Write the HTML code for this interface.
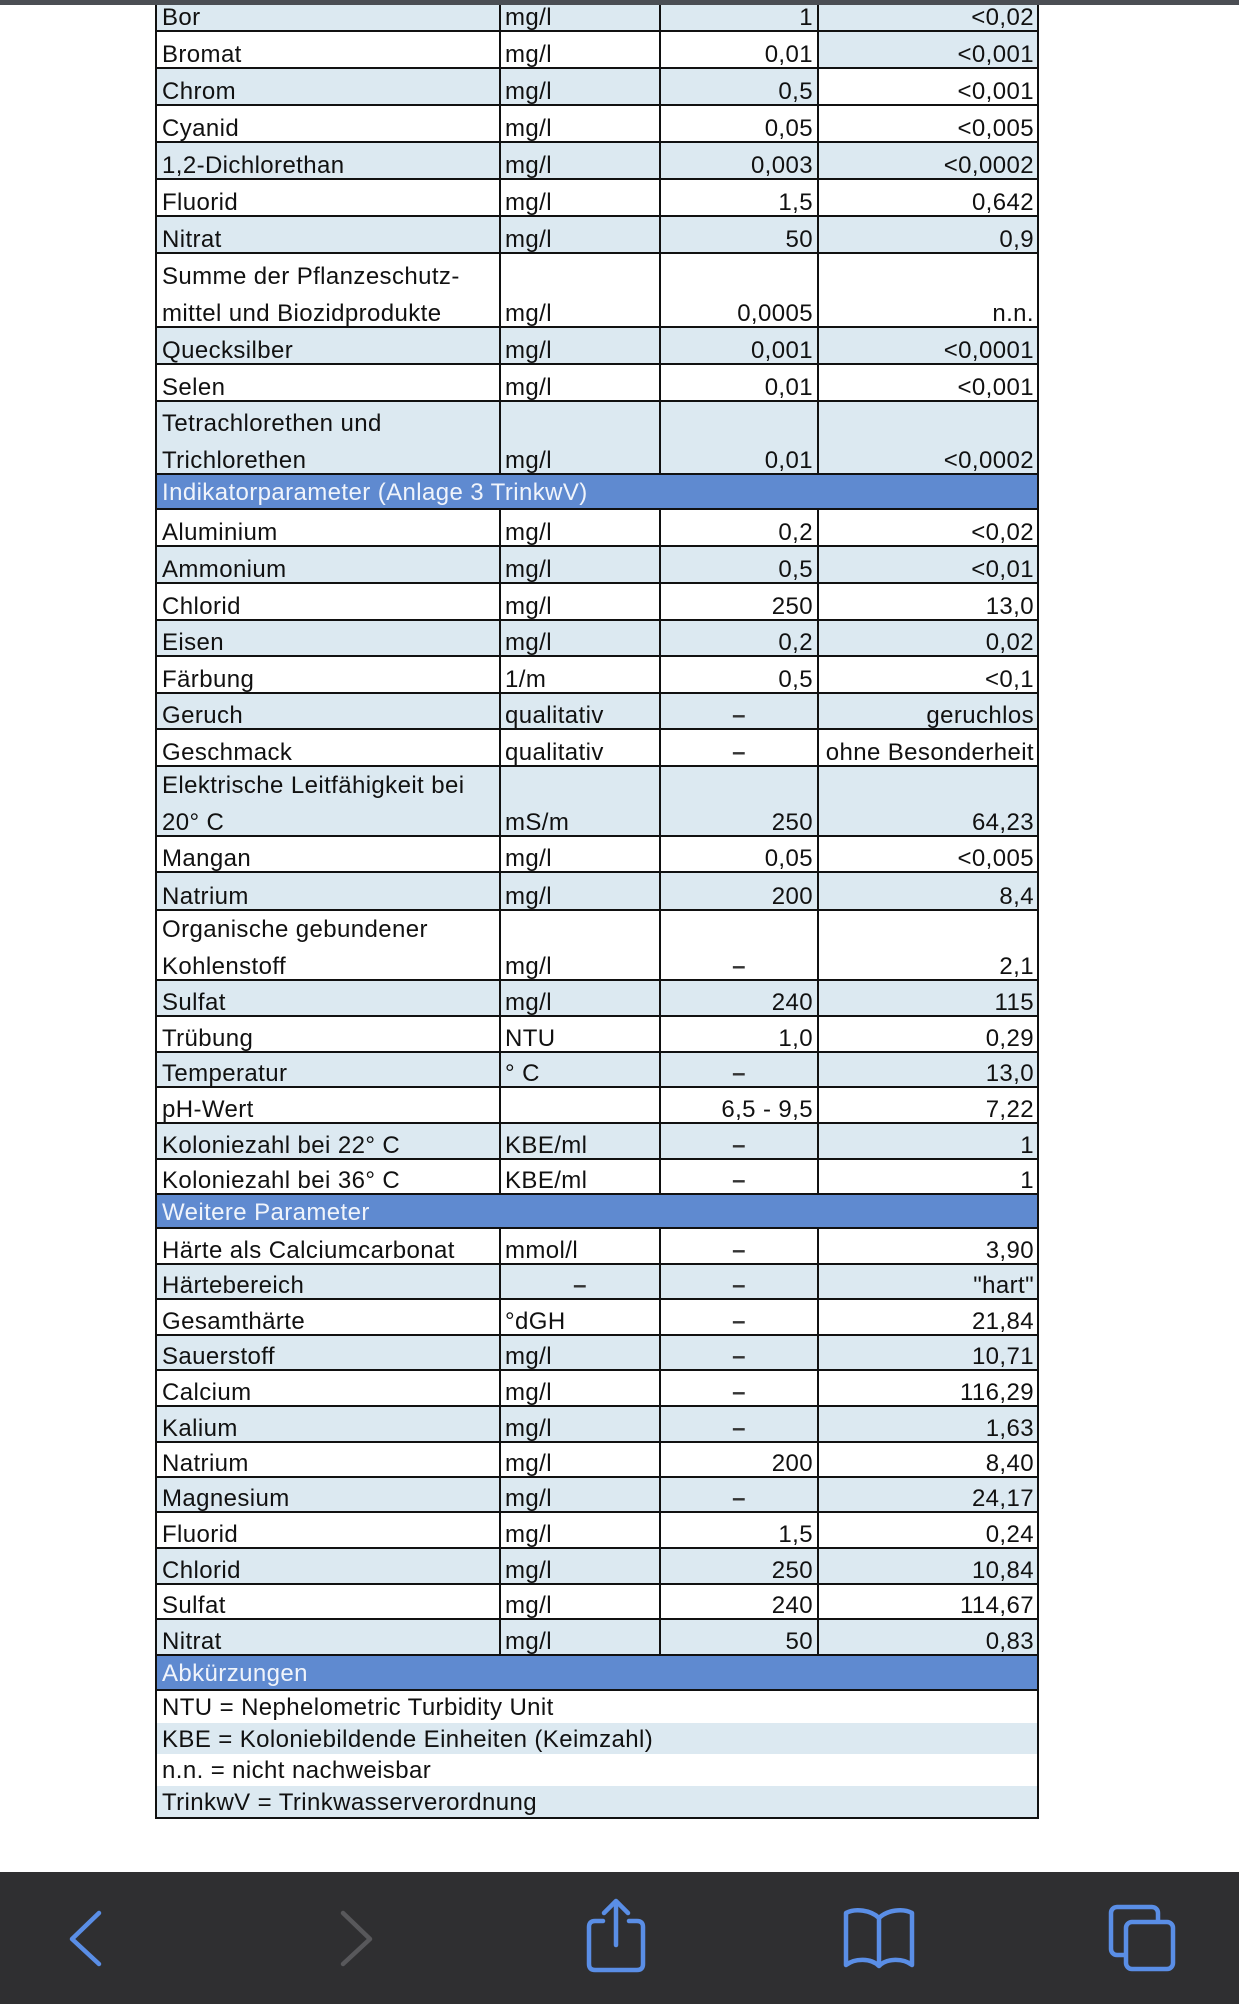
<!DOCTYPE html>
<html><head><meta charset="utf-8">
<style>
body{margin:0;width:1239px;height:2004px;position:relative;overflow:hidden;background:#fff;font-family:"Liberation Sans",sans-serif;font-size:24px;letter-spacing:0.4px;color:#111}
.r{position:absolute;left:0;width:1239px}
.c{position:absolute;top:0;bottom:0;box-sizing:border-box;border-left:2px solid #111;border-bottom:2px solid #111;background:#fff}
.c1{left:155px;width:344px}
.c2{left:499px;width:160px}
.c3{left:659px;width:158px}
.c4{left:817px;width:222px;border-right:2px solid #111}
.c.b{background:#dce9f1}
.t{position:absolute;bottom:-6px;line-height:37px;white-space:nowrap}
.c1 .t{left:5px}
.c2 .t{left:4px}
.c3 .t{right:4px}
.c4 .t{right:3px}
.c .t.m{left:0;right:0;text-align:center;color:#333;font-weight:bold}
.h{position:absolute;left:155px;width:884px;box-sizing:border-box;border-left:2px solid #111;border-right:2px solid #111;border-bottom:2px solid #111;background:#5f8ad0;color:#f0f4fb;padding-left:5px;line-height:35px;white-space:nowrap}
.n{position:absolute;left:155px;width:884px;box-sizing:border-box;border-left:2px solid #111;border-right:2px solid #111;padding-left:5px;line-height:33px;white-space:nowrap;background:#fff}
.n.b{background:#dce9f1}
.top{position:absolute;left:0;top:0;width:1239px;height:5px;background:#4b4e54}
.bar{position:absolute;left:0;top:1872px;width:1239px;height:132px;background:#2f2f31}
</style></head><body>

<div class="r" style="top:-5px;height:37px"><div class="c c1 b"><div class="t">Bor</div></div><div class="c c2 b"><div class="t">mg/l</div></div><div class="c c3 b"><div class="t">1</div></div><div class="c c4 b"><div class="t">&lt;0,02</div></div></div>
<div class="r" style="top:32px;height:37px"><div class="c c1"><div class="t">Bromat</div></div><div class="c c2"><div class="t">mg/l</div></div><div class="c c3"><div class="t">0,01</div></div><div class="c c4 b"><div class="t">&lt;0,001</div></div></div>
<div class="r" style="top:69px;height:37px"><div class="c c1 b"><div class="t">Chrom</div></div><div class="c c2 b"><div class="t">mg/l</div></div><div class="c c3 b"><div class="t">0,5</div></div><div class="c c4"><div class="t">&lt;0,001</div></div></div>
<div class="r" style="top:106px;height:37px"><div class="c c1"><div class="t">Cyanid</div></div><div class="c c2"><div class="t">mg/l</div></div><div class="c c3"><div class="t">0,05</div></div><div class="c c4"><div class="t">&lt;0,005</div></div></div>
<div class="r" style="top:143px;height:37px"><div class="c c1 b"><div class="t">1,2-Dichlorethan</div></div><div class="c c2 b"><div class="t">mg/l</div></div><div class="c c3 b"><div class="t">0,003</div></div><div class="c c4 b"><div class="t">&lt;0,0002</div></div></div>
<div class="r" style="top:180px;height:37px"><div class="c c1"><div class="t">Fluorid</div></div><div class="c c2"><div class="t">mg/l</div></div><div class="c c3"><div class="t">1,5</div></div><div class="c c4"><div class="t">0,642</div></div></div>
<div class="r" style="top:217px;height:37px"><div class="c c1 b"><div class="t">Nitrat</div></div><div class="c c2 b"><div class="t">mg/l</div></div><div class="c c3 b"><div class="t">50</div></div><div class="c c4 b"><div class="t">0,9</div></div></div>
<div class="r" style="top:254px;height:74px"><div class="c c1"><div class="t">Summe der Pflanzeschutz-<br>mittel und Biozidprodukte</div></div><div class="c c2"><div class="t">mg/l</div></div><div class="c c3"><div class="t">0,0005</div></div><div class="c c4"><div class="t">n.n.</div></div></div>
<div class="r" style="top:328px;height:37px"><div class="c c1 b"><div class="t">Quecksilber</div></div><div class="c c2 b"><div class="t">mg/l</div></div><div class="c c3 b"><div class="t">0,001</div></div><div class="c c4 b"><div class="t">&lt;0,0001</div></div></div>
<div class="r" style="top:365px;height:37px"><div class="c c1"><div class="t">Selen</div></div><div class="c c2"><div class="t">mg/l</div></div><div class="c c3"><div class="t">0,01</div></div><div class="c c4"><div class="t">&lt;0,001</div></div></div>
<div class="r" style="top:402px;height:73px"><div class="c c1 b"><div class="t">Tetrachlorethen und<br>Trichlorethen</div></div><div class="c c2 b"><div class="t">mg/l</div></div><div class="c c3 b"><div class="t">0,01</div></div><div class="c c4 b"><div class="t">&lt;0,0002</div></div></div>
<div class="h" style="top:475px;height:35px">Indikatorparameter (Anlage 3 TrinkwV)</div>
<div class="r" style="top:510px;height:37px"><div class="c c1"><div class="t">Aluminium</div></div><div class="c c2"><div class="t">mg/l</div></div><div class="c c3"><div class="t">0,2</div></div><div class="c c4"><div class="t">&lt;0,02</div></div></div>
<div class="r" style="top:547px;height:37px"><div class="c c1 b"><div class="t">Ammonium</div></div><div class="c c2 b"><div class="t">mg/l</div></div><div class="c c3 b"><div class="t">0,5</div></div><div class="c c4 b"><div class="t">&lt;0,01</div></div></div>
<div class="r" style="top:584px;height:37px"><div class="c c1"><div class="t">Chlorid</div></div><div class="c c2"><div class="t">mg/l</div></div><div class="c c3"><div class="t">250</div></div><div class="c c4"><div class="t">13,0</div></div></div>
<div class="r" style="top:621px;height:36px"><div class="c c1 b"><div class="t">Eisen</div></div><div class="c c2 b"><div class="t">mg/l</div></div><div class="c c3 b"><div class="t">0,2</div></div><div class="c c4 b"><div class="t">0,02</div></div></div>
<div class="r" style="top:657px;height:37px"><div class="c c1"><div class="t">Färbung</div></div><div class="c c2"><div class="t">1/m</div></div><div class="c c3"><div class="t">0,5</div></div><div class="c c4"><div class="t">&lt;0,1</div></div></div>
<div class="r" style="top:694px;height:36px"><div class="c c1 b"><div class="t">Geruch</div></div><div class="c c2 b"><div class="t">qualitativ</div></div><div class="c c3 b"><div class="t m">–</div></div><div class="c c4 b"><div class="t">geruchlos</div></div></div>
<div class="r" style="top:730px;height:37px"><div class="c c1"><div class="t">Geschmack</div></div><div class="c c2"><div class="t">qualitativ</div></div><div class="c c3"><div class="t m">–</div></div><div class="c c4"><div class="t">ohne Besonderheit</div></div></div>
<div class="r" style="top:767px;height:70px"><div class="c c1 b"><div class="t">Elektrische Leitfähigkeit bei<br>20° C</div></div><div class="c c2 b"><div class="t">mS/m</div></div><div class="c c3 b"><div class="t">250</div></div><div class="c c4 b"><div class="t">64,23</div></div></div>
<div class="r" style="top:837px;height:36px"><div class="c c1"><div class="t">Mangan</div></div><div class="c c2"><div class="t">mg/l</div></div><div class="c c3"><div class="t">0,05</div></div><div class="c c4"><div class="t">&lt;0,005</div></div></div>
<div class="r" style="top:873px;height:38px"><div class="c c1 b"><div class="t">Natrium</div></div><div class="c c2 b"><div class="t">mg/l</div></div><div class="c c3 b"><div class="t">200</div></div><div class="c c4 b"><div class="t">8,4</div></div></div>
<div class="r" style="top:911px;height:70px"><div class="c c1"><div class="t">Organische gebundener<br>Kohlenstoff</div></div><div class="c c2"><div class="t">mg/l</div></div><div class="c c3"><div class="t m">–</div></div><div class="c c4"><div class="t">2,1</div></div></div>
<div class="r" style="top:981px;height:36px"><div class="c c1 b"><div class="t">Sulfat</div></div><div class="c c2 b"><div class="t">mg/l</div></div><div class="c c3 b"><div class="t">240</div></div><div class="c c4 b"><div class="t">115</div></div></div>
<div class="r" style="top:1017px;height:36px"><div class="c c1"><div class="t">Trübung</div></div><div class="c c2"><div class="t">NTU</div></div><div class="c c3"><div class="t">1,0</div></div><div class="c c4"><div class="t">0,29</div></div></div>
<div class="r" style="top:1053px;height:35px"><div class="c c1 b"><div class="t">Temperatur</div></div><div class="c c2 b"><div class="t">° C</div></div><div class="c c3 b"><div class="t m">–</div></div><div class="c c4 b"><div class="t">13,0</div></div></div>
<div class="r" style="top:1088px;height:36px"><div class="c c1"><div class="t">pH-Wert</div></div><div class="c c2"><div class="t"></div></div><div class="c c3"><div class="t">6,5 - 9,5</div></div><div class="c c4"><div class="t">7,22</div></div></div>
<div class="r" style="top:1124px;height:36px"><div class="c c1 b"><div class="t">Koloniezahl bei 22° C</div></div><div class="c c2 b"><div class="t">KBE/ml</div></div><div class="c c3 b"><div class="t m">–</div></div><div class="c c4 b"><div class="t">1</div></div></div>
<div class="r" style="top:1160px;height:35px"><div class="c c1"><div class="t">Koloniezahl bei 36° C</div></div><div class="c c2"><div class="t">KBE/ml</div></div><div class="c c3"><div class="t m">–</div></div><div class="c c4"><div class="t">1</div></div></div>
<div class="h" style="top:1195px;height:34px">Weitere Parameter</div>
<div class="r" style="top:1229px;height:36px"><div class="c c1"><div class="t">Härte als Calciumcarbonat</div></div><div class="c c2"><div class="t">mmol/l</div></div><div class="c c3"><div class="t m">–</div></div><div class="c c4"><div class="t">3,90</div></div></div>
<div class="r" style="top:1265px;height:35px"><div class="c c1 b"><div class="t">Härtebereich</div></div><div class="c c2 b"><div class="t m">–</div></div><div class="c c3 b"><div class="t m">–</div></div><div class="c c4 b"><div class="t">"hart"</div></div></div>
<div class="r" style="top:1300px;height:36px"><div class="c c1"><div class="t">Gesamthärte</div></div><div class="c c2"><div class="t">°dGH</div></div><div class="c c3"><div class="t m">–</div></div><div class="c c4"><div class="t">21,84</div></div></div>
<div class="r" style="top:1336px;height:35px"><div class="c c1 b"><div class="t">Sauerstoff</div></div><div class="c c2 b"><div class="t">mg/l</div></div><div class="c c3 b"><div class="t m">–</div></div><div class="c c4 b"><div class="t">10,71</div></div></div>
<div class="r" style="top:1371px;height:36px"><div class="c c1"><div class="t">Calcium</div></div><div class="c c2"><div class="t">mg/l</div></div><div class="c c3"><div class="t m">–</div></div><div class="c c4"><div class="t">116,29</div></div></div>
<div class="r" style="top:1407px;height:36px"><div class="c c1 b"><div class="t">Kalium</div></div><div class="c c2 b"><div class="t">mg/l</div></div><div class="c c3 b"><div class="t m">–</div></div><div class="c c4 b"><div class="t">1,63</div></div></div>
<div class="r" style="top:1443px;height:35px"><div class="c c1"><div class="t">Natrium</div></div><div class="c c2"><div class="t">mg/l</div></div><div class="c c3"><div class="t">200</div></div><div class="c c4"><div class="t">8,40</div></div></div>
<div class="r" style="top:1478px;height:35px"><div class="c c1 b"><div class="t">Magnesium</div></div><div class="c c2 b"><div class="t">mg/l</div></div><div class="c c3 b"><div class="t m">–</div></div><div class="c c4 b"><div class="t">24,17</div></div></div>
<div class="r" style="top:1513px;height:36px"><div class="c c1"><div class="t">Fluorid</div></div><div class="c c2"><div class="t">mg/l</div></div><div class="c c3"><div class="t">1,5</div></div><div class="c c4"><div class="t">0,24</div></div></div>
<div class="r" style="top:1549px;height:36px"><div class="c c1 b"><div class="t">Chlorid</div></div><div class="c c2 b"><div class="t">mg/l</div></div><div class="c c3 b"><div class="t">250</div></div><div class="c c4 b"><div class="t">10,84</div></div></div>
<div class="r" style="top:1585px;height:35px"><div class="c c1"><div class="t">Sulfat</div></div><div class="c c2"><div class="t">mg/l</div></div><div class="c c3"><div class="t">240</div></div><div class="c c4"><div class="t">114,67</div></div></div>
<div class="r" style="top:1620px;height:36px"><div class="c c1 b"><div class="t">Nitrat</div></div><div class="c c2 b"><div class="t">mg/l</div></div><div class="c c3 b"><div class="t">50</div></div><div class="c c4 b"><div class="t">0,83</div></div></div>
<div class="h" style="top:1656px;height:35px">Abkürzungen</div>
<div class="n" style="top:1691px;height:32px">NTU = Nephelometric Turbidity Unit</div>
<div class="n b" style="top:1723px;height:31px">KBE = Koloniebildende Einheiten (Keimzahl)</div>
<div class="n" style="top:1754px;height:32px">n.n. = nicht nachweisbar</div>
<div class="n b" style="top:1786px;height:33px;border-bottom:2px solid #111">TrinkwV = Trinkwasserverordnung</div>

<div class="top"></div>
<div class="bar"></div>
<svg style="position:absolute;left:0;top:1872px" width="1239" height="132" viewBox="0 1872 1239 132">
  <g fill="none" stroke-linecap="round" stroke-linejoin="round" stroke-width="4.5">
    <polyline points="99,1913 72,1939 99,1964" stroke="#5a8ee6"/>
    <polyline points="343,1913 370,1939 343,1964" stroke="#58585b"/>
    <path d="M603,1921 L595,1921 Q589,1921 589,1927 L589,1964 Q589,1970 595,1970 L637,1970 Q643,1970 643,1964 L643,1927 Q643,1921 637,1921 L629,1921" stroke="#5a8ee6"/>
    <line x1="616" y1="1902" x2="616" y2="1945" stroke="#5a8ee6"/>
    <polyline points="604,1913 616,1901 628,1913" stroke="#5a8ee6"/>
    <path d="M879,1918 C871,1910 855,1908 846,1913 L846,1965 C855,1958 871,1958 879,1966 C887,1958 903,1958 912,1965 L912,1913 C903,1908 887,1910 879,1918 Z M879,1918 L879,1965" stroke="#5a8ee6"/>
    <rect x="1111" y="1907" width="47" height="48" rx="6" stroke="#5a8ee6"/>
    <rect x="1126" y="1922" width="47" height="47" rx="6" stroke="#5a8ee6" fill="#2f2f31"/>
  </g>
</svg>
</body></html>
